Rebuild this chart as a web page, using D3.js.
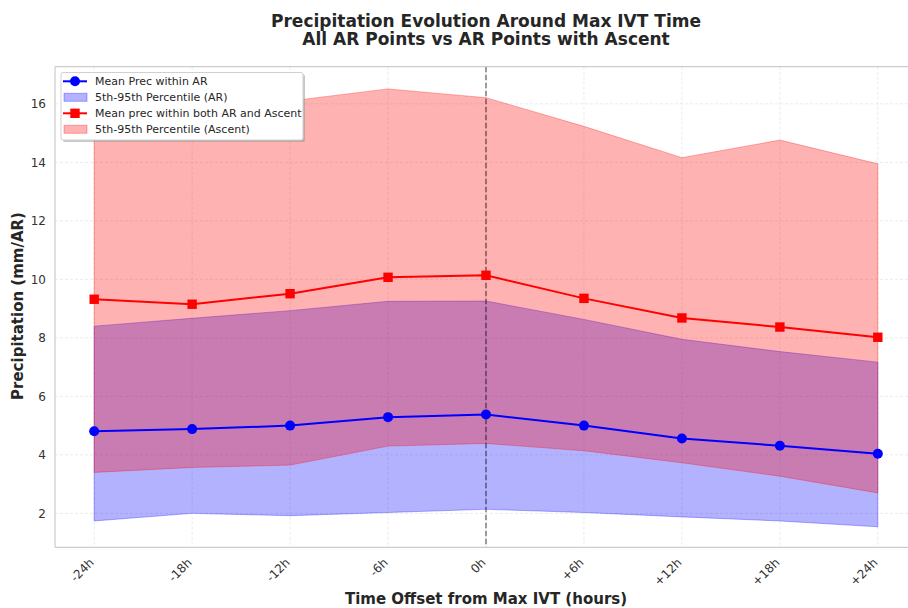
<!DOCTYPE html>
<html>
<head>
<meta charset="utf-8">
<script src="https://cdn.jsdelivr.net/npm/d3@7"></script>
<style>
  html, body { margin: 0; padding: 0; background: #fff; }
  svg { display: block; font-family: "DejaVu Sans", sans-serif; }
</style>
</head>
<body>
<svg id="chart" width="908" height="608"></svg>
<script>
// Time offsets (hours) relative to max IVT time, and their tick labels
const hours = [-24, -18, -12, -6, 0, 6, 12, 18, 24];
const hourLabels = ["-24h", "-18h", "-12h", "-6h", "0h", "+6h", "+12h", "+18h", "+24h"];

// All AR points: mean precipitation and 5th-95th percentile band
const arMean = [4.81, 4.88, 5.00, 5.29, 5.38, 5.00, 4.56, 4.31, 4.04];
const arP5   = [1.74, 2.00, 1.92, 2.03, 2.14, 2.03, 1.88, 1.74, 1.54];
const arP95  = [8.40, 8.67, 8.93, 9.25, 9.26, 8.63, 7.95, 7.53, 7.17];

// AR points with ascent: mean precipitation and 5th-95th percentile band
const ascMean = [9.32, 9.15, 9.51, 10.07, 10.14, 9.35, 8.68, 8.37, 8.02];
const ascP5   = [3.40, 3.57, 3.65, 4.30, 4.39, 4.14, 3.73, 3.27, 2.70];
const ascP95  = [15.90, 16.05, 16.10, 16.51, 16.21, 15.23, 14.16, 14.76, 13.95];

const yTicks = [2, 4, 6, 8, 10, 12, 14, 16];

const svg = d3.select("#chart");
const plot = { left: 55, right: 917, top: 66.7, bottom: 547.3 };

const x = d3.scaleLinear().domain([-26.4, 26.4]).range([plot.left, plot.right]);
const y = d3.scaleLinear().domain([0.84, 17.27]).range([plot.bottom, plot.top]);

const rows = hours.map((h, i) => ({
  h, label: hourLabels[i],
  arMean: arMean[i], arP5: arP5[i], arP95: arP95[i],
  ascMean: ascMean[i], ascP5: ascP5[i], ascP95: ascP95[i]
}));

// Clip region for the plotting area
svg.append("defs").append("clipPath").attr("id", "plotClip")
  .append("rect")
  .attr("x", plot.left).attr("y", plot.top)
  .attr("width", plot.right - plot.left).attr("height", plot.bottom - plot.top);

const g = svg.append("g").attr("clip-path", "url(#plotClip)");

// Grid
g.append("g").selectAll("line").data(hours).join("line")
  .attr("x1", d => x(d)).attr("x2", d => x(d))
  .attr("y1", plot.top).attr("y2", plot.bottom)
  .attr("stroke", "#e6e6e6").attr("stroke-width", 0.8).attr("stroke-dasharray", "3,2");
g.append("g").selectAll("line").data(yTicks).join("line")
  .attr("x1", plot.left).attr("x2", plot.right)
  .attr("y1", d => y(d)).attr("y2", d => y(d))
  .attr("stroke", "#e6e6e6").attr("stroke-width", 0.8).attr("stroke-dasharray", "3,2");

// Percentile bands
const bandAR = d3.area().x(d => x(d.h)).y0(d => y(d.arP5)).y1(d => y(d.arP95));
const bandAsc = d3.area().x(d => x(d.h)).y0(d => y(d.ascP5)).y1(d => y(d.ascP95));

g.append("path").datum(rows).attr("d", bandAR)
  .attr("fill", "#0000ff").attr("fill-opacity", 0.3)
  .attr("stroke", "#0000ff").attr("stroke-opacity", 0.3).attr("stroke-width", 1);
g.append("path").datum(rows).attr("d", bandAsc)
  .attr("fill", "#ff0000").attr("fill-opacity", 0.3)
  .attr("stroke", "#ff0000").attr("stroke-opacity", 0.3).attr("stroke-width", 1);

// Reference line at the max IVT time
g.append("line")
  .attr("x1", x(0)).attr("x2", x(0)).attr("y1", plot.top).attr("y2", plot.bottom)
  .attr("stroke", "#000").attr("stroke-opacity", 0.5)
  .attr("stroke-width", 1.5).attr("stroke-dasharray", "5.5,2.5");

// Mean lines
const lineAR = d3.line().x(d => x(d.h)).y(d => y(d.arMean));
const lineAsc = d3.line().x(d => x(d.h)).y(d => y(d.ascMean));

g.append("path").datum(rows).attr("d", lineAR)
  .attr("fill", "none").attr("stroke", "#0000ff").attr("stroke-width", 2);
g.append("g").selectAll("circle").data(rows).join("circle")
  .attr("cx", d => x(d.h)).attr("cy", d => y(d.arMean)).attr("r", 5)
  .attr("fill", "#0000ff");

g.append("path").datum(rows).attr("d", lineAsc)
  .attr("fill", "none").attr("stroke", "#ff0000").attr("stroke-width", 2);
g.append("g").selectAll("rect").data(rows).join("rect")
  .attr("x", d => x(d.h) - 4.7).attr("y", d => y(d.ascMean) - 4.7)
  .attr("width", 9.4).attr("height", 9.4)
  .attr("fill", "#ff0000");

// Spines
svg.append("line").attr("x1", plot.left).attr("x2", plot.left)
  .attr("y1", plot.top).attr("y2", plot.bottom)
  .attr("stroke", "#cccccc").attr("stroke-width", 1.2);
svg.append("line").attr("x1", plot.left).attr("x2", plot.right)
  .attr("y1", plot.bottom).attr("y2", plot.bottom)
  .attr("stroke", "#cccccc").attr("stroke-width", 1.2);
svg.append("line").attr("x1", plot.left).attr("x2", plot.right)
  .attr("y1", plot.top).attr("y2", plot.top)
  .attr("stroke", "#cccccc").attr("stroke-width", 1.2);

// Axes built with d3 generators, domain lines and ticks hidden
const yAxis = d3.axisLeft(y).tickValues(yTicks).tickSize(0).tickPadding(9)
  .tickFormat(d3.format("d"));
const yG = svg.append("g").attr("transform", `translate(${plot.left},0)`).call(yAxis);
yG.select(".domain").remove();
yG.selectAll("text").attr("font-size", 12).attr("fill", "#333")
  .attr("font-family", "DejaVu Sans, sans-serif");

const xAxis = d3.axisBottom(x).tickValues(hours).tickSize(0)
  .tickFormat((d, i) => hourLabels[i]);
const xG = svg.append("g").attr("transform", `translate(0,${plot.bottom})`).call(xAxis);
xG.select(".domain").remove();
xG.selectAll("text")
  .attr("font-size", 12).attr("fill", "#333")
  .attr("font-family", "DejaVu Sans, sans-serif")
  .attr("text-anchor", "end")
  .attr("dy", null).attr("y", 0)
  .attr("transform", "translate(0,16) rotate(-45)");

// Titles
svg.append("text").attr("x", 486).attr("y", 26.5).attr("text-anchor", "middle")
  .attr("font-size", 17).attr("font-weight", "bold").attr("fill", "#262626")
  .text("Precipitation Evolution Around Max IVT Time");
svg.append("text").attr("x", 486).attr("y", 45).attr("text-anchor", "middle")
  .attr("font-size", 17).attr("font-weight", "bold").attr("fill", "#262626")
  .text("All AR Points vs AR Points with Ascent");

svg.append("text").attr("x", 486).attr("y", 604).attr("text-anchor", "middle")
  .attr("font-size", 15).attr("font-weight", "bold").attr("fill", "#262626")
  .text("Time Offset from Max IVT (hours)");
svg.append("text").attr("transform", "translate(23,306) rotate(-90)")
  .attr("text-anchor", "middle")
  .attr("font-size", 15).attr("font-weight", "bold").attr("fill", "#262626")
  .text("Precipitation (mm/AR)");

// Legend
const legend = svg.append("g").attr("transform", "translate(61,72.5)");
legend.append("rect").attr("x", 2).attr("y", 2).attr("width", 242).attr("height", 67.5)
  .attr("rx", 2).attr("fill", "#999").attr("fill-opacity", 0.55);
legend.append("rect").attr("x", 0).attr("y", 0).attr("width", 242).attr("height", 67.5)
  .attr("rx", 2).attr("fill", "#fff").attr("stroke", "#d0d0d0").attr("stroke-width", 1);

const legendItems = [
  { label: "Mean Prec within AR", color: "#0000ff", kind: "circle" },
  { label: "5th-95th Percentile (AR)", color: "#0000ff", kind: "band" },
  { label: "Mean prec within both AR and Ascent", color: "#ff0000", kind: "square" },
  { label: "5th-95th Percentile (Ascent)", color: "#ff0000", kind: "band" }
];
legendItems.forEach((it, i) => {
  const cy = 8.8 + i * 16;
  const item = legend.append("g").attr("transform", `translate(0,${cy})`);
  if (it.kind === "band") {
    item.append("rect").attr("x", 3).attr("y", -4).attr("width", 23).attr("height", 8)
      .attr("fill", it.color).attr("fill-opacity", 0.3)
      .attr("stroke", it.color).attr("stroke-opacity", 0.3);
  } else {
    item.append("line").attr("x1", 2).attr("x2", 26).attr("y1", 0).attr("y2", 0)
      .attr("stroke", it.color).attr("stroke-width", 2);
    if (it.kind === "circle") {
      item.append("circle").attr("cx", 14).attr("cy", 0).attr("r", 5).attr("fill", it.color);
    } else {
      item.append("rect").attr("x", 9.3).attr("y", -4.7).attr("width", 9.4).attr("height", 9.4)
        .attr("fill", it.color);
    }
  }
  item.append("text").attr("x", 34).attr("y", 4).attr("font-size", 11).attr("fill", "#262626")
    .text(it.label);
});
</script>
</body>
</html>
